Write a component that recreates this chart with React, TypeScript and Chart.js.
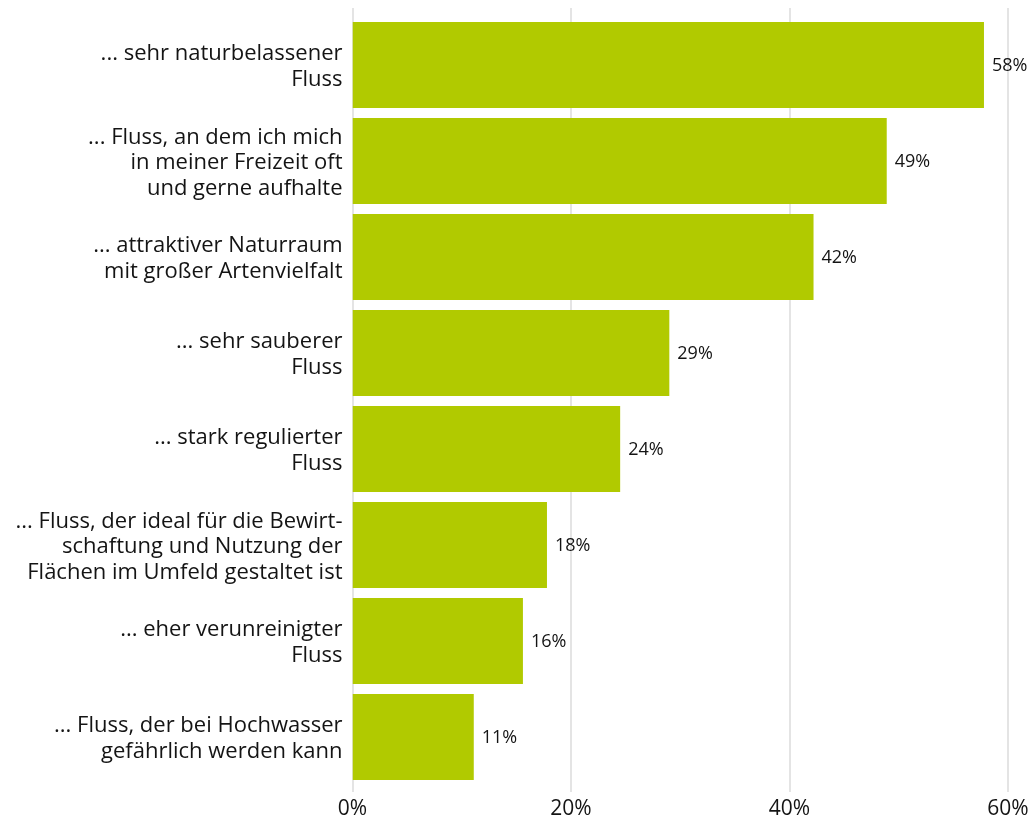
import React, { useEffect, useRef } from "react";
import { Chart, registerables } from "chart.js";

Chart.register(...registerables);

const categories: string[][] = [
  ["... sehr naturbelassener", "Fluss"],
  ["... Fluss, an dem ich mich", "in meiner Freizeit oft", "und gerne aufhalte"],
  ["... attraktiver Naturraum", "mit großer Artenvielfalt"],
  ["... sehr sauberer", "Fluss"],
  ["... stark regulierter", "Fluss"],
  ["... Fluss, der ideal für die Bewirt-", "schaftung und Nutzung der", "Flächen im Umfeld gestaltet ist"],
  ["... eher verunreinigter", "Fluss"],
  ["... Fluss, der bei Hochwasser", "gefährlich werden kann"],
];
const values: number[] = [57.8, 48.9, 42.2, 29.0, 24.5, 17.8, 15.6, 11.1];
const valueLabels: string[] = ["58%", "49%", "42%", "29%", "24%", "18%", "16%", "11%"];
const xTicks: number[] = [0, 20, 40, 60];

const FONT = "'Open Sans', 'Noto Sans', sans-serif";
const BAR = "#b1ca00";
const TEXT = "#141414";

const gridPlugin = {
  id: "customGrid",
  beforeDatasetsDraw(chart: any) {
    const { ctx, chartArea, scales } = chart;
    const x = scales.x;
    ctx.save();
    ctx.strokeStyle = "#e4e4e4";
    ctx.lineWidth = 2;
    for (const t of xTicks) {
      const px = Math.round(x.getPixelForValue(t));
      ctx.beginPath();
      ctx.moveTo(px, chartArea.top - 9);
      ctx.lineTo(px, chartArea.bottom + 7);
      ctx.stroke();
    }
    ctx.restore();
  },
};

const labelPlugin = {
  id: "valueLabels",
  afterDatasetsDraw(chart: any) {
    const { ctx } = chart;
    const meta = chart.getDatasetMeta(0);
    ctx.save();
    ctx.fillStyle = TEXT;
    ctx.font = `18px ${FONT}`;
    ctx.textAlign = "left";
    ctx.textBaseline = "middle";
    meta.data.forEach((el: any, i: number) => {
      ctx.fillText(valueLabels[i], el.x + 8, el.y + 1);
    });
    ctx.restore();
  },
};

export default function App() {
  const ref = useRef<HTMLCanvasElement | null>(null);
  useEffect(() => {
    if (!ref.current) return;
    const chart = new Chart(ref.current, {
      type: "bar",
      data: {
        labels: categories as any,
        datasets: [
          {
            data: values,
            backgroundColor: BAR,
            borderWidth: 0,
            barPercentage: 0.896,
            categoryPercentage: 1,
          },
        ],
      },
      options: {
        indexAxis: "y",
        animation: false,
        responsive: true,
        maintainAspectRatio: false,
        layout: { padding: { top: 17, right: 26, left: 0, bottom: 0 } },
        plugins: {
          legend: { display: false },
          tooltip: { enabled: false },
        },
        scales: {
          x: {
            min: 0,
            max: 60,
            ticks: {
              stepSize: 20,
              color: TEXT,
              font: { family: FONT, size: 21 },
              padding: 11,
              callback: (v: any) => `${v}%`,
            },
            grid: { display: false, drawTicks: false },
            border: { display: false },
            afterFit: (s: any) => {
              s.height = 37;
              s.paddingLeft = 0;
              s.paddingRight = 0;
            },
          },
          y: {
            ticks: {
              color: TEXT,
              font: { family: FONT, size: 22, lineHeight: 1.17 },
              padding: 10,
              labelOffset: 2,
              autoSkip: false,
            },
            grid: { display: false, drawTicks: false },
            border: { display: false },
            afterFit: (s: any) => {
              s.width = 352.5;
              s.paddingTop = 0;
              s.paddingBottom = 0;
            },
          },
        },
      },
      plugins: [gridPlugin, labelPlugin],
    });
    return () => chart.destroy();
  }, []);
  return (
    <div style={{ position: "fixed", left: 0, top: 0, width: 1034, height: 822 }}>
      <canvas ref={ref} />
    </div>
  );
}
